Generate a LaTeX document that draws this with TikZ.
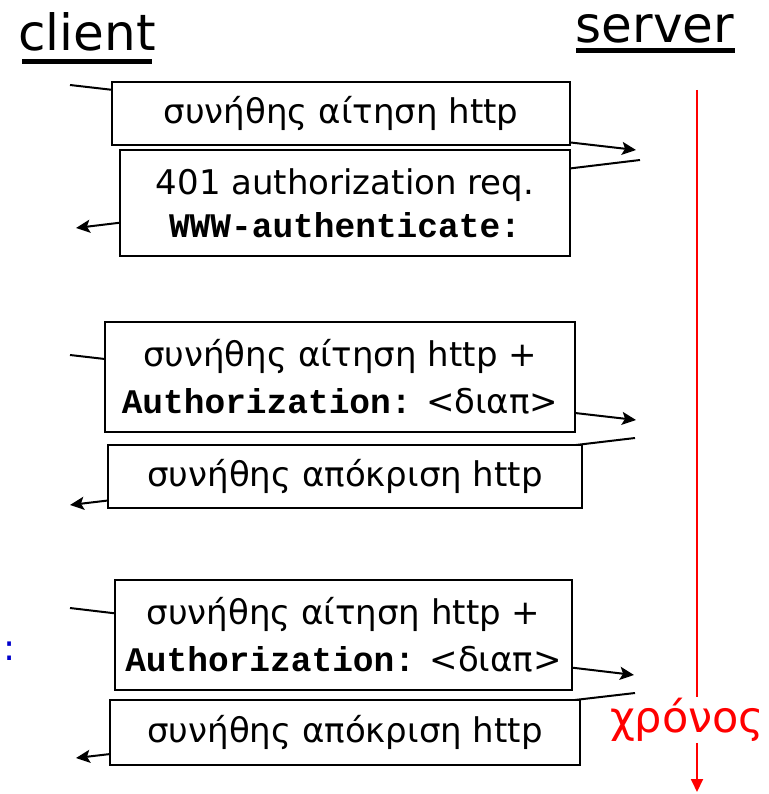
\documentclass[tikz,border=0pt]{standalone}
\usepackage{fontspec}
\setmainfont{DejaVu Sans}
\newfontfamily\codefont{Liberation Mono}
\usetikzlibrary{arrows.meta}
\tikzset{
  msgbox/.style={draw, fill=white, line width=1.2pt, inner sep=0pt, align=center,
    font=\fontsize{34}{47}\selectfont},
  msg/.style={line width=2pt, -{Stealth[length=14pt,width=13pt,inset=3pt]}},
  hdr/.style={font=\fontsize{50}{50}\selectfont, anchor=base},
}
\newcommand{\cd}[1]{{\codefont\bfseries\fontsize{34.5}{47}\selectfont #1}}
\begin{document}
\begin{tikzpicture}[x=1pt,y=-1pt]
\useasboundingbox (0,0) rectangle (768,794);

% headers
\node[hdr] (client) at (87,51) {client};
\node[hdr] (server) at (655,43) {server};
\draw[line width=5pt] (22,61.5) -- (152,61.5);
\draw[line width=5pt] (576,50.5) -- (735,50.5);

% time axis
\coordinate (t0) at (697,90);
\coordinate (t2) at (697,792);
\node[text=red, font=\fontsize{43}{43}\selectfont, inner sep=1pt] (time) at (687,720) {χρόνος};
\draw[red, line width=1.8pt] (t0) -- (t0 |- time.north);
\draw[red, line width=1.8pt, -{Triangle[length=13pt,width=12pt]}] (t0 |- time.south) -- (t2);

% message endpoints
\coordinate (m1s) at (70,85);   \coordinate (m1e) at (636,150);
\coordinate (m2s) at (640,160); \coordinate (m2e) at (76,228);
\coordinate (m3s) at (70,355);  \coordinate (m3e) at (636,420);
\coordinate (m4s) at (635,438); \coordinate (m4e) at (70,505);
\coordinate (m5s) at (70,608);  \coordinate (m5e) at (634,675);
\coordinate (m6s) at (635,693); \coordinate (m6e) at (76,758);

\draw[msg] (m1s) -- (m1e);
\draw[msg] (m2s) -- (m2e);
\draw[msg] (m3s) -- (m3e);
\draw[msg] (m4s) -- (m4e);
\draw[msg] (m5s) -- (m5e);
\draw[msg] (m6s) -- (m6e);

% message boxes
\node[msgbox, minimum width=458pt, minimum height=63pt] (b1) at (341,113.5) {συνήθης αίτηση http};
\node[msgbox, minimum width=450pt, minimum height=106pt] (b2) at (345,203)
  {401 authorization req.\\[-4pt] \cd{WWW-authenticate:}};
\node[msgbox, minimum width=470pt, minimum height=110pt] (b3) at (340,377)
  {συνήθης αίτηση http +\\ \cd{Authorization:} <διαπ>};
\node[msgbox, minimum width=474pt, minimum height=63pt] (b4) at (345,476.5) {συνήθης απόκριση http};
\node[msgbox, minimum width=457pt, minimum height=110pt] (b5) at (343.5,635)
  {συνήθης αίτηση http +\\ \cd{Authorization:} <διαπ>};
\node[msgbox, minimum width=470pt, minimum height=65pt] (b6) at (345,732.5) {συνήθης απόκριση http};

% stray colon on the left
\node[text=blue!80!black, font=\fontsize{36}{36}\selectfont] (colon) at (10,651) {:};
\end{tikzpicture}
\end{document}
